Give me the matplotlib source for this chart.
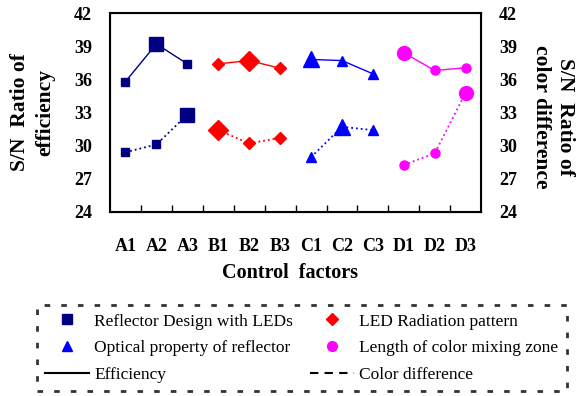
import matplotlib.pyplot as plt
from matplotlib.lines import Line2D

plt.rcParams['font.family'] = ['Liberation Serif', 'DejaVu Serif']

# --- Data ---
levels = ['A1', 'A2', 'A3', 'B1', 'B2', 'B3', 'C1', 'C2', 'C3', 'D1', 'D2', 'D3']
groups = ['A', 'B', 'C', 'D']
eff = {'A': [35.8, 39.2, 37.4], 'B': [37.4, 37.7, 37.0],
       'C': [37.8, 37.7, 36.5], 'D': [38.4, 36.8, 37.05]}
cdiff = {'A': [29.4, 30.1, 32.8], 'B': [31.4, 30.2, 30.7],
         'C': [28.95, 31.7, 31.4], 'D': [28.25, 29.3, 34.8]}
best_eff = {'A': 1, 'B': 1, 'C': 0, 'D': 0}
best_cd = {'A': 2, 'B': 0, 'C': 1, 'D': 2}

colors = {'A': '#000080', 'B': '#ff0000', 'C': '#0000ff', 'D': '#ff00ff'}
markers = {'A': 's', 'B': 'D', 'C': '^', 'D': 'o'}
small = {'A': 6, 'B': 6, 'C': 7, 'D': 6.5}
big = {'A': 10, 'B': 10, 'C': 11, 'D': 10}
names = {'A': 'Reflector Design with LEDs', 'B': 'LED Radiation pattern',
         'C': 'Optical property of reflector', 'D': 'Length of color mixing zone'}

fig = plt.figure(figsize=(5.79, 3.96), dpi=100)
ax = fig.add_axes([0.19, 0.465, 0.641, 0.502])

for gi, g in enumerate(groups):
    xs = [gi * 3 + k for k in range(3)]
    c = colors[g]
    ax.plot(xs, eff[g], '-', color=c, lw=1)
    ax.plot(xs, cdiff[g], ':', color=c, lw=1.3)
    for k in range(3):
        ax.plot(xs[k], eff[g][k], markers[g], color=c,
                ms=big[g] if k == best_eff[g] else small[g])
        ax.plot(xs[k], cdiff[g][k], markers[g], color=c,
                ms=big[g] if k == best_cd[g] else small[g])

ax.set_xlim(-0.5, len(levels) - 0.5)
ax.set_ylim(24, 42)
ax.set_yticks(range(24, 43, 3))
ax.set_xticks([i + 0.5 for i in range(len(levels) - 1)])
ax.set_xticklabels([])
ax.tick_params(axis='x', direction='in', length=5, width=1)
ax.tick_params(axis='y', length=0, pad=13)
for lab in ax.get_yticklabels():
    lab.set_fontweight('bold')
    lab.set_fontsize(13)
for i, lv in enumerate(levels):
    ax.text(i, 20.9, lv, ha='center', va='center', fontsize=13,
            fontweight='bold', transform=ax.transData, clip_on=False)
for s in ax.spines.values():
    s.set_linewidth(1.5)

ax2 = ax.twinx()
ax2.set_ylim(24, 42)
ax2.set_yticks(range(24, 43, 3))
ax2.tick_params(axis='y', length=0, pad=13)
for lab in ax2.get_yticklabels():
    lab.set_fontweight('bold')
    lab.set_fontsize(13)

fig.text(32.5 / 579, 1 - 112.5 / 396, 'S/N  Ratio of\nefficiency', rotation=90,
         ha='center', va='center', multialignment='center', fontsize=15.5,
         fontweight='bold', linespacing=1.3)
fig.text(553 / 579, 1 - 117 / 396, 'S/N  Ratio of\ncolor difference', rotation=-90,
         ha='center', va='center', multialignment='center', fontsize=15.5,
         fontweight='bold', linespacing=1.3)
fig.text(0.5, 1 - 273 / 396, 'Control  factors', ha='center', va='center',
         fontsize=14.5, fontweight='bold')

handles = [
    Line2D([], [], ls='none', marker='s', color=colors['A'], ms=7),
    Line2D([], [], ls='none', marker='^', color=colors['C'], ms=7),
    Line2D([], [], ls='-', color='black', lw=1.5),
    Line2D([], [], ls='none', marker='D', color=colors['B'], ms=6),
    Line2D([], [], ls='none', marker='o', color=colors['D'], ms=7),
    Line2D([], [], ls=(0, (4, 3)), color='black', lw=1.5),
]
labels = [names['A'], names['C'], 'Efficiency', names['B'], names['D'], 'Color difference']
leg = fig.legend(handles, labels, ncol=2, loc='lower center',
                 bbox_to_anchor=(0.521, 0.003), fontsize=12.5, fancybox=False,
                 frameon=True, edgecolor='black', handlelength=2.5,
                 handletextpad=0.3, columnspacing=1.0, labelspacing=0.6,
                 borderpad=0.5, borderaxespad=0.2)
frame = leg.get_frame()
frame.set_linestyle((0, (2, 4)))
frame.set_linewidth(2)

fig.savefig('out.png', dpi=100)
